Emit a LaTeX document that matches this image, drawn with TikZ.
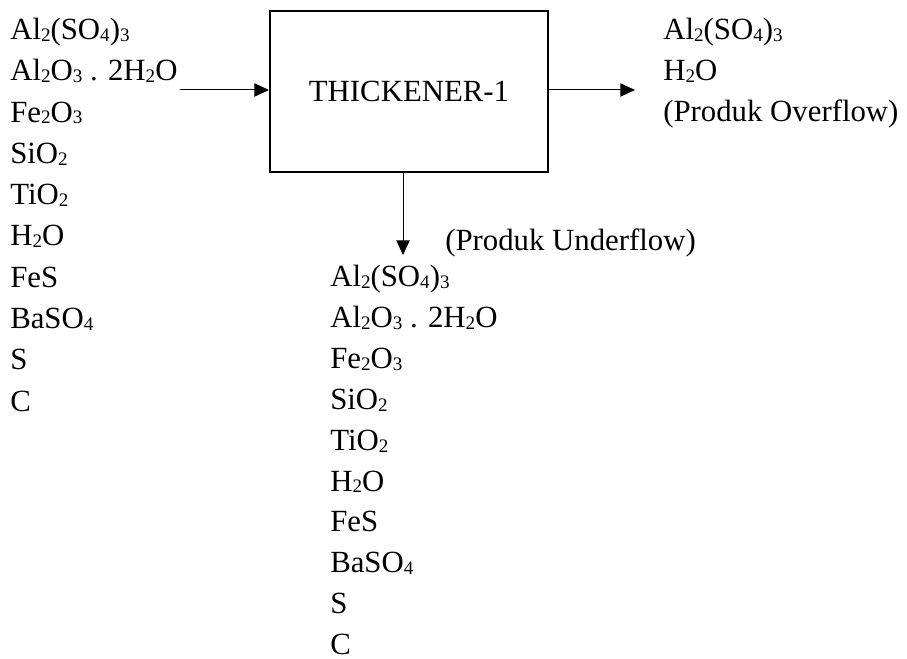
\documentclass[tikz,border=0pt]{standalone}
\usepackage{fontspec}
\setmainfont{Liberation Serif}
\usetikzlibrary{arrows.meta, positioning}

\newcommand{\sub}[1]{\raisebox{-0.06em}{\scalebox{0.62}{#1}}}

\tikzset{
  chem/.style={anchor=base west, inner sep=0pt, font=\fontsize{23.1}{28}\selectfont},
  unitbox/.style={draw, line width=1.5pt, minimum width=208.5pt, minimum height=120.75pt,
    inner sep=0pt, font=\fontsize{23.1}{28}\selectfont},
  flow/.style={line width=0.75pt, -{Triangle[length=11pt,width=10pt]}},
}

\begin{document}
\begin{tikzpicture}[x=0.75pt, y=-0.75pt]
  \useasboundingbox (0,0) rectangle (907,659);

  % thickener unit
  \node[unitbox] (thick) at (409,91.5) {THICKENER-1};

  % feed stream, left
  \foreach \txt [count=\i] in {Al\sub{2}(SO\sub{4})\sub{3}, Al\sub{2}O\sub{3} . 2H\sub{2}O,
      Fe\sub{2}O\sub{3}, SiO\sub{2}, TiO\sub{2}, H\sub{2}O, FeS, BaSO\sub{4}, S, C}
    \node[chem] (feed-\i) at (10,{39.5+41.3*(\i-1)}) {\txt};

  % overflow product, right
  \node[chem] (over-1) at (663,40) {Al\sub{2}(SO\sub{4})\sub{3}};
  \node[chem] (over-2) at (663,81) {H\sub{2}O};
  \node[chem] (over-3) at (663,122) {(Produk Overflow)};

  % underflow product, below
  \node[chem] (under-lbl) at (445,251) {(Produk Underflow)};
  \foreach \txt [count=\i] in {Al\sub{2}(SO\sub{4})\sub{3}, Al\sub{2}O\sub{3} . 2H\sub{2}O,
      Fe\sub{2}O\sub{3}, SiO\sub{2}, TiO\sub{2}, H\sub{2}O, FeS, BaSO\sub{4}, S, C}
    \node[chem] (under-\i) at (330,{287+40.8*(\i-1)}) {\txt};

  % stream arrows
  \coordinate (feed-in) at (180,90);
  \coordinate (over-out) at (635,90);
  \coordinate (under-out) at (403,255);
  \draw[flow] (feed-in) -- (feed-in -| thick.west);
  \draw[flow] (over-out -| thick.east) -- (over-out);
  \draw[flow] (under-out |- thick.south) -- (under-out);
\end{tikzpicture}
\end{document}
